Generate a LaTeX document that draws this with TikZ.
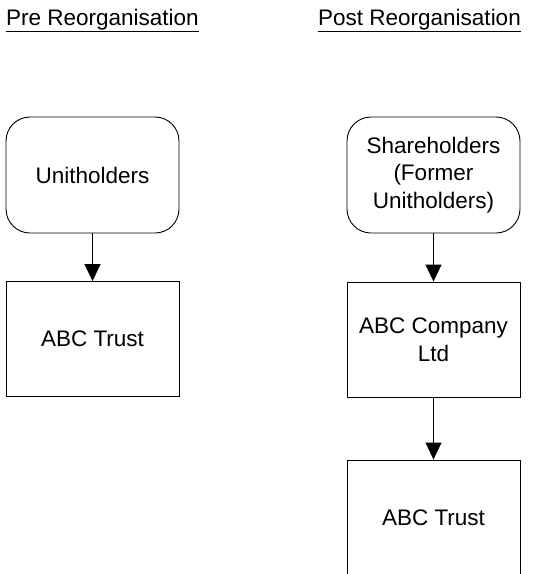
\documentclass[tikz,border=0pt]{standalone}
\usepackage{fontspec}
\setmainfont{Liberation Sans}
\usetikzlibrary{arrows.meta}
\pgfdeclarelayer{edgelayer}
\pgfdeclarelayer{nodelayer}
\pgfsetlayers{edgelayer,nodelayer,main}
\tikzstyle{party}=[rectangle,rounded corners=24pt,draw=black,fill=white,line width=0.9pt,minimum width=173pt,minimum height=116pt,align=center,font=\fontsize{22.5}{27.5}\selectfont]
\tikzstyle{entity}=[rectangle,draw=black,fill=white,line width=0.9pt,minimum width=173pt,minimum height=115pt,align=center,font=\fontsize{22.5}{27.5}\selectfont]
\tikzstyle{heading}=[anchor=base west,inner sep=0pt,font=\fontsize{22.5}{27.5}\selectfont]
\tikzstyle{holding}=[-{Triangle[width=16pt,length=17pt]},draw=black,line width=0.9pt]

\begin{document}
\begin{tikzpicture}[x=1pt,y=-1pt]
	\clip (0,0) rectangle (549,574);
	\node [style=heading] (t0) at (6, 25) {\underline{Pre Reorganisation}};
	\node [style=heading] (t1) at (318, 25) {\underline{Post Reorganisation}};
	\begin{pgfonlayer}{nodelayer}
		\node [style=party] (0) at (92.5, 175) {Unitholders};
		\node [style=entity] (1) at (92.5, 339) {ABC Trust};
		\node [style=party] (2) at (433.5, 175) {Shareholders\\(Former\\Unitholders)};
		\node [style=entity] (3) at (433.5, 339.5) {ABC Company\\Ltd};
		\node [style=entity] (4) at (433.5, 517.5) {ABC Trust};
	\end{pgfonlayer}
	\begin{pgfonlayer}{edgelayer}
		\draw [style=holding] (0) to (1);
		\draw [style=holding] (2) to (3);
		\draw [style=holding] (3) to (4);
	\end{pgfonlayer}
\end{tikzpicture}
\end{document}
